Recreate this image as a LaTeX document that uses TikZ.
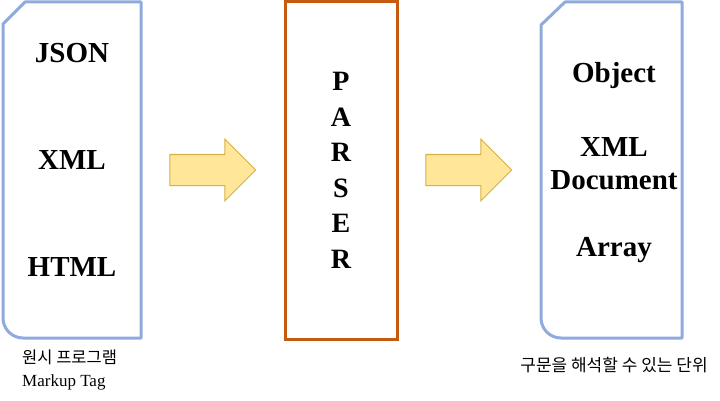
\documentclass[tikz,border=0pt]{standalone}
\usepackage{fontspec}
\setmainfont{Liberation Serif}
\newfontfamily\kofont{Noto Sans CJK KR}
\usetikzlibrary{shapes.arrows, positioning}
\definecolor{boxblue}{RGB}{143,170,220}
\definecolor{parserorange}{RGB}{197,90,17}
\definecolor{arrowfill}{RGB}{255,230,153}
\definecolor{arrowline}{RGB}{214,178,70}
\tikzset{
    myframe/.style = {
        draw=boxblue,
        line width=3pt,
        line join=round
    },
    myparser/.style = {
        rectangle,
        draw=parserorange,
        line width=3pt,
        minimum width=112pt,
        minimum height=337pt,
        align=center,
        font=\fontsize{28}{35.5}\selectfont\bfseries
    },
    myitem/.style = {
        align=center,
        inner sep=0pt,
        font=\fontsize{29}{33}\selectfont\bfseries
    },
    mycaption/.style = {
        align=left,
        inner sep=0pt,
        font=\fontsize{16.5}{23}\selectfont
    },
    myarrow/.style = {
        single arrow,
        draw=arrowline,
        fill=arrowfill,
        line width=1pt,
        inner xsep=0pt,
        inner ysep=15pt,
        minimum height=86pt,
        single arrow head extend=15.5pt
    }
}

\begin{document}
\begin{tikzpicture}[x=1pt, y=-1pt, node distance=107pt]
\useasboundingbox (0,0) rectangle (720,401);

% Entrada (esquerda)
\draw [myframe] (141,2) -- (25,2) -- (3,24) [rounded corners=20pt] -- (3,338) [sharp corners] -- (141,338) -- cycle;
\node (json) [myitem] at (72,53) {JSON};
\node (xml) [myitem, below of=json] {XML};
\node (html) [myitem, below of=xml] {HTML};
\node (source) [mycaption, anchor=north west] at (22,350) {{\kofont 원시 프로그램}\\{\fontsize{17}{23}\selectfont Markup Tag}};

% Parser
\node (parser) [myparser] at (341,170.5) {P\\A\\R\\S\\E\\R};

% Setas
\node (inarrow) [myarrow] at (205,170) {};
\node (outarrow) [myarrow] at (461,170) {};

% Saida (direita)
\draw [myframe] (682,2) -- (565,2) -- (541,25) [rounded corners=20pt] -- (541,338) [sharp corners] -- (682,338) -- cycle;
\node (object) [myitem] at (614,76) {Object};
\node (xmldoc) [myitem] at (614,164) {XML\\Document};
\node (array) [myitem] at (614,250) {Array};
\node (unit) [mycaption, font=\kofont\fontsize{17}{22}\selectfont] at (614,365) {구문을 해석할 수 있는 단위};

\end{tikzpicture}
\end{document}
